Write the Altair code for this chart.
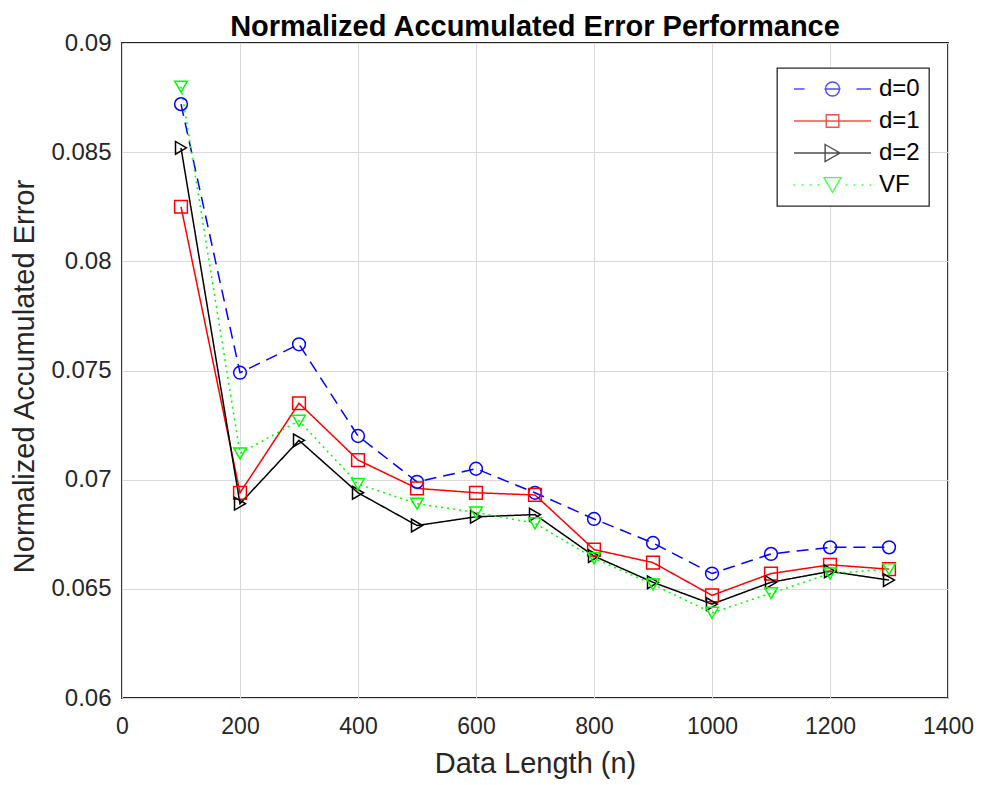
import altair as alt
import pandas as pd

# ---------------- data ----------------
x_vals = [100, 200, 300, 400, 500, 600, 700, 800, 900, 1000, 1100, 1200, 1300]
series_names = ["d=0", "d=1", "d=2", "VF"]
d0 = [0.0872, 0.0749, 0.0762, 0.0720, 0.0699, 0.0705, 0.0694, 0.0682, 0.0671, 0.0657, 0.0666, 0.0669, 0.0669]
d1 = [0.0825, 0.0694, 0.0735, 0.0709, 0.0696, 0.0694, 0.0693, 0.0668, 0.0662, 0.0647, 0.0657, 0.0661, 0.0659]
d2 = [0.0852, 0.0689, 0.0718, 0.0694, 0.0679, 0.0683, 0.0684, 0.0665, 0.0653, 0.0643, 0.0653, 0.0658, 0.0654]
vf = [0.0880, 0.0712, 0.0727, 0.0698, 0.0689, 0.0685, 0.0680, 0.0664, 0.0652, 0.0639, 0.0648, 0.0657, 0.0659]
x_ticks = [0, 200, 400, 600, 800, 1000, 1200, 1400]
y_ticks = [0.06, 0.065, 0.07, 0.075, 0.08, 0.085, 0.09]

colors = ["#0000FF", "#FF0000", "#000000", "#00FF00"]
dashes = [[12, 7], [1, 0], [1, 0], [2, 4]]
shapes = ["circle", "square", "triangle-right", "triangle-down"]
sizes = [163, 160, 289, 289]

rows = []
for name, vals in zip(series_names, [d0, d1, d2, vf]):
    for xv, yv in zip(x_vals, vals):
        rows.append({"n": xv, "err": yv, "series": name})
df = pd.DataFrame(rows)

# ------------- legend symbol paths (line + marker) -------------
SYM_W = 91.0
U = SYM_W / 2.0


def p(v):
    return f"{v / U:.4f}"


def seg(a, b):
    return f"M{p(a)},0L{p(b)},0"


circle = f"M{p(7)},0A{p(7)},{p(7)} 0 1,1 {p(-7)},0A{p(7)},{p(7)} 0 1,1 {p(7)},0"
square = f"M{p(-6.3)},{p(-6.3)}L{p(6.3)},{p(-6.3)}L{p(6.3)},{p(6.3)}L{p(-6.3)},{p(6.3)}Z"
tri_r = f"M{p(-7.4)},{p(-8.5)}L{p(7.4)},0L{p(-7.4)},{p(8.5)}Z"
tri_d = f"M{p(-8.5)},{p(-7.4)}L{p(8.5)},{p(-7.4)}L0,{p(7.4)}Z"
dots = "".join(seg(c - 0.9, c + 0.9) for c in [-38, -30, -22, -14, 14, 22, 30, 38])

legend_paths = [
    seg(-38.5, -28) + seg(-8, 8) + seg(24, 38.5) + circle,
    seg(-38.5, 38.5) + square,
    seg(-38.5, 38.5) + tri_r,
    dots + tri_d,
]

FONT = "Liberation Sans"
GRAY = "#262626"
PLOT_W = 826

base = alt.Chart(df)

x_enc = alt.X(
    "n:Q",
    scale=alt.Scale(domain=[0, 1400], nice=False),
    axis=alt.Axis(
        values=x_ticks, format="d", title="Data Length (n)",
        ticks=False, tickSize=0, domain=False, labelPadding=17, labelFlush=False,
        labelFontSize=23,
        titleX=PLOT_W / 2, titleY=74, titleBaseline="alphabetic", titleAlign="center",
    ),
)
y_enc = alt.Y(
    "err:Q",
    scale=alt.Scale(domain=[0.06, 0.09], nice=False, zero=False),
    axis=alt.Axis(
        values=y_ticks, format=".3~f", title="Normalized Accumulated Error",
        ticks=False, tickSize=0, domain=False, labelPadding=11, labelFlush=False,
        titleX=-89, titleY=333, titleBaseline="alphabetic", titleAlign="center", titleAngle=270,
    ),
)
color = alt.Color("series:N", scale=alt.Scale(domain=series_names, range=colors), legend=None)

lines = base.mark_line(strokeWidth=1.5).encode(
    x=x_enc,
    y=y_enc,
    color=color,
    strokeDash=alt.StrokeDash("series:N", scale=alt.Scale(domain=series_names, range=dashes), legend=None),
)

points = base.mark_point(filled=False, strokeWidth=1.5, opacity=1).encode(
    x="n:Q",
    y="err:Q",
    color=color,
    shape=alt.Shape("series:N", scale=alt.Scale(domain=series_names, range=shapes), legend=None),
    size=alt.Size("series:O", scale=alt.Scale(domain=series_names, range=sizes), legend=None),
)

legend_layer = base.transform_filter("false").mark_point(filled=False, strokeWidth=1.4).encode(
    x="n:Q",
    y="err:Q",
    stroke=alt.Stroke("series:N", scale=alt.Scale(domain=series_names, range=colors), legend=alt.Legend(title=None)),
    shape=alt.Shape("series:N", scale=alt.Scale(domain=series_names, range=legend_paths), legend=alt.Legend(title=None)),
)

chart = (
    alt.layer(lines, points, legend_layer)
    .resolve_scale(shape="independent", stroke="independent")
    .properties(
        width=PLOT_W,
        height=655,
        title=alt.Title(
            "Normalized Accumulated Error Performance",
            fontSize=29, font=FONT, fontWeight="bold", color="#000000",
            anchor="middle", frame="group", offset=-11,
        ),
        autosize=alt.AutoSizeParams(type="none"),
        padding={"left": 114, "top": 35, "right": 27, "bottom": 95},
        background="white",
    )
    .configure_view(stroke=GRAY, strokeWidth=1.8)
    .configure_axis(
        labelFont=FONT, labelFontSize=24, labelColor=GRAY,
        titleFont=FONT, titleFontSize=29, titleColor=GRAY, titleFontWeight="normal",
        gridColor="#d9d9d9", gridWidth=1, gridOpacity=1,
    )
    .configure_legend(
        orient="none", legendX=655, legendY=25,
        padding=9, rowPadding=8, clipHeight=24,
        symbolSize=SYM_W * SYM_W, symbolStrokeWidth=1.4, symbolFillColor="transparent",
        labelFont=FONT, labelFontSize=24, labelColor="#000000", labelOffset=0,
        strokeColor=GRAY, strokeWidth=1.3, fillColor="white", cornerRadius=0,
    )
)

chart.save("out.html", embed_options={"renderer": "svg", "actions": False})
